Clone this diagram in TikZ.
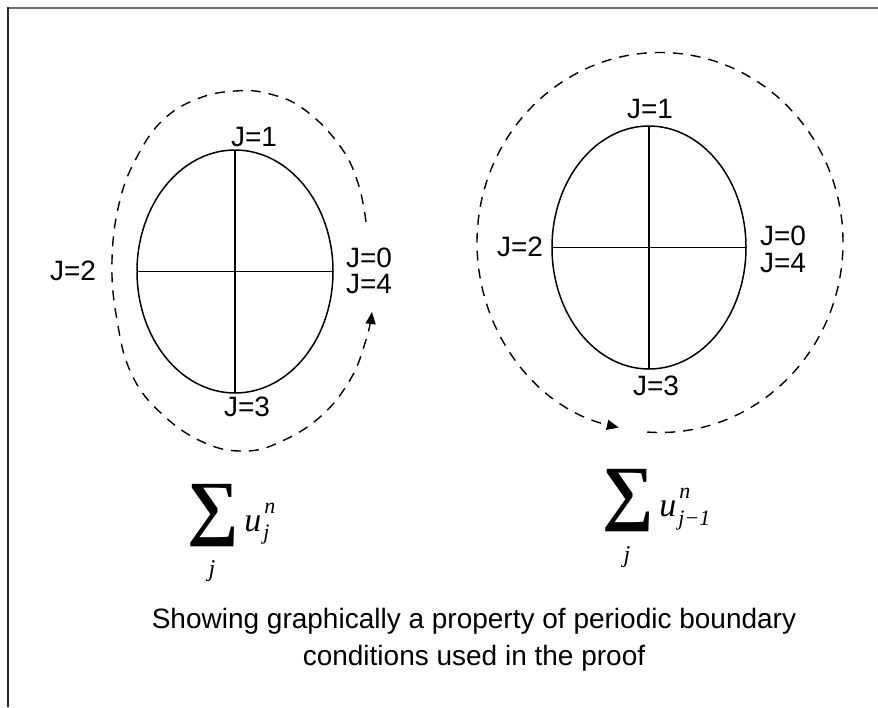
\documentclass[tikz,border=0pt]{standalone}
\usepackage{fontspec}
\setmainfont{Liberation Sans}
\newfontfamily\serifmath{Liberation Serif}
\usetikzlibrary{arrows.meta}
\definecolor{topgray}{RGB}{110,110,110}
\definecolor{leftgray}{RGB}{40,40,40}
\begin{document}
\begin{tikzpicture}[x=0.5pt,y=-0.5pt,
  lbl/.style={inner sep=0pt, font=\fontsize{14}{16}\selectfont},
  captxt/.style={inner sep=0pt, anchor=base, font=\fontsize{14}{18}\selectfont},
  ell/.style={line width=0.75pt},
  dsh/.style={dash pattern=on 5pt off 4pt, line width=0.7pt},
  tip/.style={-{Triangle[length=6pt,width=5pt]}},
  bigsum/.style={inner sep=0pt, anchor=south west, font=\serifmath\bfseries\fontsize{36}{36}\selectfont},
  mvar/.style={inner sep=0pt, anchor=base west, font=\serifmath\itshape\fontsize{17}{18}\selectfont},
  mscr/.style={inner sep=0pt, anchor=base west, font=\serifmath\itshape\fontsize{11}{12}\selectfont},
  mlim/.style={inner sep=0pt, anchor=base, font=\serifmath\itshape\fontsize{12}{14}\selectfont}]
\useasboundingbox (0,0) rectangle (878,707);
\fill[white] (0,0) rectangle (878,707);
% frame
\draw[line width=1pt, topgray] (7,7.5) -- (878,7.5);
\draw[line width=1pt, leftgray] (8,7) -- (8,707);

% left ellipse
\coordinate (cL) at (235,271.5);
\draw[ell] (cL) ellipse [x radius=98, y radius=121.5];
\draw[ell] (cL) ++(-98,0) -- ++(196,0);
\draw[ell] (cL) ++(0,-121.5) -- ++(0,243);
\node[lbl] (L1) at (254,137) {J=1};
\node[lbl] (L2) at (73,271) {J=2};
\node[lbl] (L0) at (369,258) {J=0};
\node[lbl] (L4) at (369,284) {J=4};
\node[lbl] (L3) at (247,407) {J=3};
\draw[dsh,tip] plot[smooth, tension=0.7] coordinates {(366,222) (358,183) (340,146) (305,110) (270,94) (235,91) (197,99) (163,120) (138,155) (120,200) (112,260) (117,320) (132,375) (163,415) (205,443) (245,451) (280,442) (320,417) (350,380) (366,340) (372,312)};

% right ellipse
\coordinate (cR) at (649,247.5);
\draw[ell] (cR) ellipse [x radius=97, y radius=121.5];
\draw[ell] (cR) ++(-97,0) -- ++(194,0);
\draw[ell] (cR) ++(0,-121.5) -- ++(0,243);
\node[lbl] (R1) at (650,109) {J=1};
\node[lbl] (R2) at (520,247) {J=2};
\node[lbl] (R0) at (783,236) {J=0};
\node[lbl] (R4) at (783,263) {J=4};
\node[lbl] (R3) at (656,386) {J=3};
\coordinate (cRo) at (660,242.5);
\draw[dsh,tip] (cRo) ++(94:183 and 190) arc[start angle=94, end angle=-257, x radius=183, y radius=190];

% formulas
\node[bigsum] (sumL) at (187,547) {∑};
\node[mvar] (uL) at (244,531) {u};
\node[mscr] (supL) at (264,513) {n};
\node[mscr] (subL) at (263,539) {j};
\node[mlim] (jL) at (212,576) {j};

\node[bigsum] (sumR) at (602,532) {∑};
\node[mvar] (uR) at (659,516) {u};
\node[mscr] (supR) at (679,498) {n};
\node[mscr] (subR) at (678,525) {j−1};
\node[mlim] (jR) at (627,562) {j};

% caption
\node[captxt] (cap1) at (474,628) {Showing graphically a property of periodic boundary};
\node[captxt] (cap2) at (474,665) {conditions used in the proof};
\end{tikzpicture}
\end{document}
